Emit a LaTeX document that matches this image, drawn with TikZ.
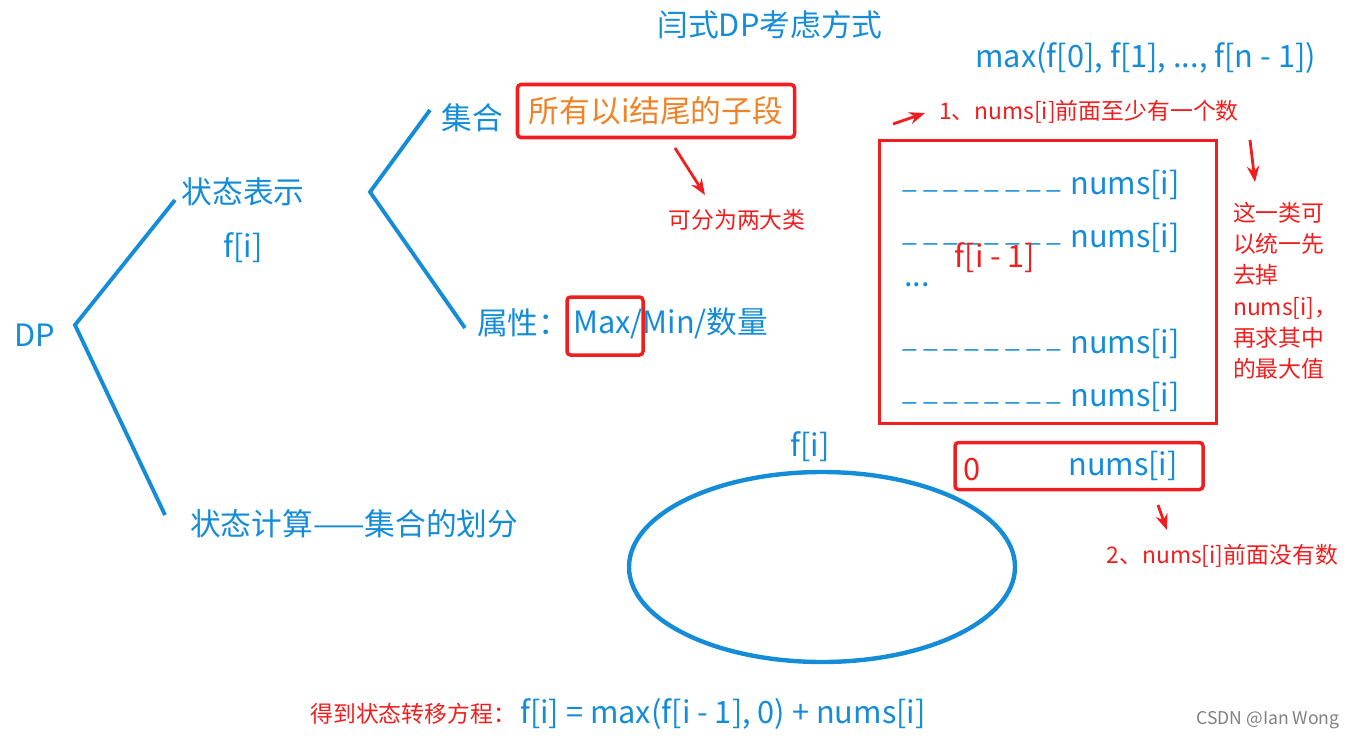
\documentclass[tikz,border=0pt]{standalone}
\usepackage{fontspec}
\setmainfont{Noto Sans CJK SC}
\usetikzlibrary{arrows.meta}
\definecolor{bl}{RGB}{20,140,215}
\definecolor{rd}{RGB}{240,30,30}
\definecolor{org}{RGB}{240,130,40}
\tikzset{
 x=0.02cm,y=-0.02cm,
 bt/.style={text=bl,font=\fontsize{17.5}{21}\selectfont,inner sep=1pt},
 rt/.style={text=rd,font=\fontsize{13}{15}\selectfont,inner sep=1pt},
 br/.style={draw=bl,line width=2.2pt},
 rbox/.style={draw=rd,line width=2pt,rounded corners=2pt},
 rarr/.style={draw=rd,line width=1.6pt,-{Stealth[length=9pt,width=7pt]}},
}
\begin{document}
\begin{tikzpicture}
\useasboundingbox (0,0) rectangle (1359,741);
\node[bt] (title) at (770,25) {闫式DP考虑方式};
\node[bt,anchor=east] (mx) at (1318,58) {max(f[0], f[1], ..., f[n - 1])};
\node[bt] (dp) at (35,335) {DP};
\coordinate (r0) at (75,325);
\coordinate (a1) at (175,200);
\coordinate (a2) at (165,515);
\draw[br] (a1) -- (r0) -- (a2);
\node[bt] (zt) at (243,192) {状态表示};
\node[bt] (fi) at (243,248) {f[i]};
\coordinate (r1) at (370,192);
\coordinate (b1) at (430,110);
\coordinate (b2) at (465,328);
\draw[br] (b1) -- (r1) -- (b2);
\node[bt] (jh) at (472,118) {集合};
\node[rbox,text=org,font=\fontsize{17.5}{21}\selectfont,minimum width=277*0.02cm,minimum height=53*0.02cm,inner sep=0pt] (sub) at (656,111) {所有以i结尾的子段};
\node[bt,anchor=west] (sx) at (475,323) {属性：};
\node[bt,anchor=west] (mm) at (571,323) {Max/Min/数量};
\node[rbox,minimum width=76*0.02cm,minimum height=58*0.02cm] (mbox) at (605,326) {};
\node[bt,anchor=west] (js) at (188,524) {状态计算——集合的划分};
\coordinate (ar1s) at (675,148);
\node[rt] (two) at (737,220) {可分为两大类};
\draw[rarr] (ar1s) -- (705,195);
\node[bt] (fi2) at (810,447) {f[i]};
\draw[bl,line width=2.5pt] (822,567) ellipse [x radius=193, y radius=95];
\node[draw=rd,line width=2pt,minimum width=337*0.02cm,minimum height=283*0.02cm,inner sep=0] (big) at (1048,282) {};
\foreach \yy/\n in {190/l1,243/l2,349/l3,402/l4}{
 \node[bt,font=\fontsize{15}{18}\selectfont] (\n) at (982,\yy) {\_ \_ \_ \_ \_ \_ \_ \_};
 \node[bt] (\n n) at (1125,\yy-5) {nums[i]};
}
\node[bt] (dots) at (917,285) {...};
\node[text=rd,font=\fontsize{17.5}{21}\selectfont] (fim) at (995,258) {f[i - 1]};
\node[rt,anchor=west] (c1) at (937,112) {1、nums[i]前面至少有一个数};
\coordinate (ar2s) at (893,124);
\draw[rarr] (ar2s) -- (925,113);
\coordinate (ar3s) at (1250,140);
\draw[rarr] (ar3s) -- (1255,182);
\node[rt,align=left,anchor=north west,font=\fontsize{13}{17.8}\selectfont] (note) at (1231,200) {这一类可\\以统一先\\去掉\\nums[i]，\\再求其中\\的最大值};
\node[rbox,minimum width=248*0.02cm,minimum height=47*0.02cm,inner sep=0] (zb) at (1079,466) {};
\node[text=rd,font=\fontsize{17.5}{21}\selectfont] (zero) at (972,470) {0};
\node[bt] (zn) at (1123,466) {nums[i]};
\coordinate (ar4s) at (1158,505);
\draw[rarr] (ar4s) -- (1167,530);
\node[rt,anchor=east] (c2) at (1340,556) {2、nums[i]前面没有数};
\node[rt,anchor=east] (eq1) at (518,714) {得到状态转移方程：};
\node[bt,anchor=west] (eq2) at (518,714) {f[i] = max(f[i - 1], 0) + nums[i]};
\node[text=gray,font=\fontsize{10}{12}\selectfont] (csdn) at (1268,720) {CSDN @Ian Wong};
\end{tikzpicture}
\end{document}
